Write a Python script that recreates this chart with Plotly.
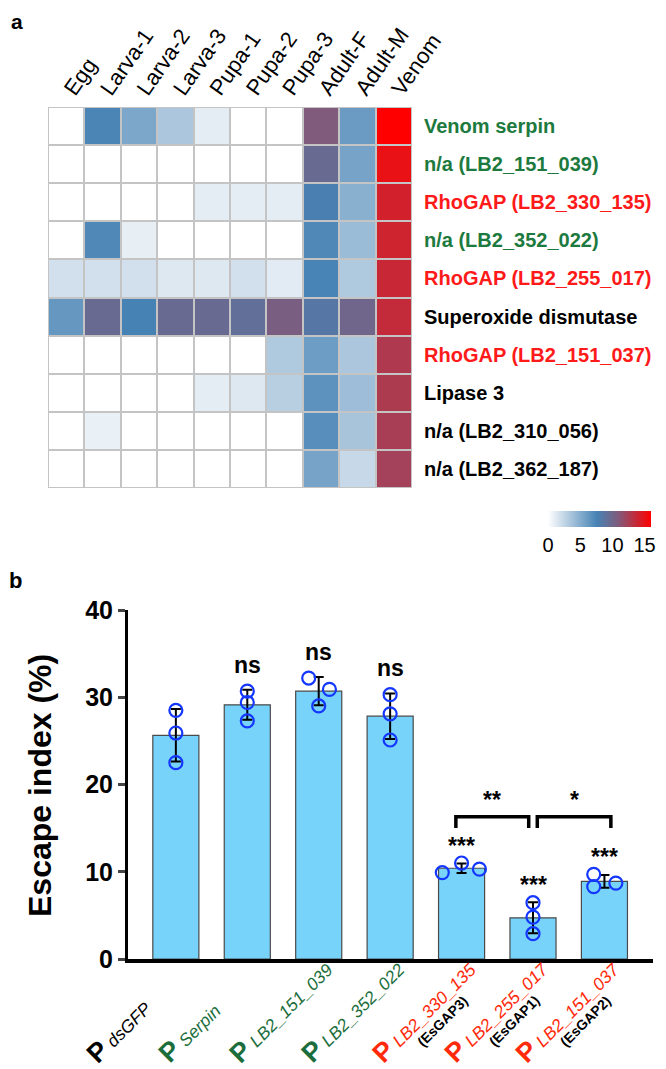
import numpy as np
import plotly.graph_objects as go

# ---- panel a: expression heatmap ----
stages = ["Egg", "Larva-1", "Larva-2", "Larva-3", "Pupa-1", "Pupa-2", "Pupa-3",
          "Adult-F", "Adult-M", "Venom"]
genes = ["Venom serpin", "n/a (LB2_151_039)", "RhoGAP (LB2_330_135)", "n/a (LB2_352_022)",
         "RhoGAP (LB2_255_017)", "Superoxide dismutase", "RhoGAP (LB2_151_037)",
         "Lipase 3", "n/a (LB2_310_056)", "n/a (LB2_362_187)"]
gene_groups = ["green", "green", "red", "green", "red", "black", "red", "black", "black", "black"]
expr = [
    [0.0, 7.4, 5.4, 3.4, 1.1, 0.0, 0.0, 10.9, 6.1, 16.0],
    [0.0, 0.0, 0.0, 0.0, 0.0, 0.0, 0.0, 9.6, 5.6, 15.1],
    [0.0, 0.0, 0.0, 0.0, 1.1, 1.1, 1.1, 7.8, 4.8, 14.2],
    [0.0, 7.2, 1.0, 0.0, 0.0, 0.0, 0.0, 7.2, 4.1, 14.0],
    [1.9, 1.9, 1.9, 1.4, 1.4, 1.9, 1.2, 7.5, 3.3, 13.8],
    [6.3, 9.6, 7.6, 9.6, 9.6, 9.2, 10.6, 8.5, 10.0, 13.6],
    [0.0, 0.0, 0.0, 0.0, 0.0, 0.0, 3.3, 6.0, 3.4, 12.8],
    [0.0, 0.0, 0.0, 0.0, 1.1, 1.4, 2.9, 6.6, 4.0, 12.7],
    [0.0, 0.9, 0.0, 0.0, 0.0, 0.0, 0.0, 6.9, 3.6, 12.5],
    [0.0, 0.0, 0.0, 0.0, 0.0, 0.0, 0.0, 5.6, 2.3, 12.3],
]

# ---- panel b: escape index ----
constructs = ["dsGFP", "Serpin", "LB2_151_039", "LB2_352_022", "LB2_330_135",
              "LB2_255_017", "LB2_151_037"]
construct_groups = ["black", "green", "green", "green", "red", "red", "red"]
aliases = ["", "", "", "", "(EsGAP3)", "(EsGAP1)", "(EsGAP2)"]
escape_reps = [
    [28.5, 25.9, 22.5],
    [30.7, 29.4, 27.3],
    [32.2, 30.9, 29.0],
    [30.3, 28.1, 25.1],
    [9.9, 11.0, 10.3],
    [6.45, 4.8, 2.9],
    [9.7, 8.3, 8.7],
]
vs_control = ["", "ns", "ns", "ns", "***", "***", "***"]
comparisons = [(4, 5, "**"), (5, 6, "*")]

FONT = "Liberation Sans, Arial, sans-serif"
hm_colors = {"green": "#1d7a3e", "red": "#ff1a1a", "black": "#000000"}
lab_colors = {"green": "#1b6e3c", "red": "#ff2a0a", "black": "#000000"}
dot_offsets = [[0, 0, 0], [0, 0, 0], [-0.14, 0.15, 0], [0, 0, 0],
               [-0.27, 0, 0.25], [0, 0, 0], [-0.15, -0.15, 0.16]]

W, H, OFF = 666, 1069, 8   # page body adds an 8px margin


def fx(x):
    return (x - OFF) / W


def fy(y):
    return 1 - (y - OFF) / H


fig = go.Figure()

fig.add_trace(go.Heatmap(
    z=expr, x=list(range(len(stages))), y=list(range(len(genes))),
    zmin=0, zmax=16, xgap=2, ygap=2,
    colorscale=[[0, "#ffffff"], [0.475, "#4682b4"], [0.68, "#7f5b7c"], [1, "#ff0000"]],
    colorbar=dict(orientation="h", x=fx(599.5), xanchor="center", y=fy(530), yanchor="middle",
                  len=123, lenmode="pixels", thickness=16, outlinewidth=0,
                  tickvals=[0, 5, 10, 15], ticks="", tickfont=dict(size=20, family=FONT)),
    xaxis="x", yaxis="y", hoverinfo="skip",
))

means = [float(np.mean(r)) for r in escape_reps]
sds = [float(np.std(r, ddof=1)) for r in escape_reps]
idx = list(range(len(constructs)))

fig.add_trace(go.Bar(
    x=idx, y=means, width=0.645, marker=dict(color="#77d3fa", line=dict(color="#4a4a4a", width=1.2)),
    error_y=dict(type="data", array=sds, color="black", thickness=2, width=5),
    xaxis="x2", yaxis="y2", showlegend=False,
))

px_, py_ = [], []
for i, reps in enumerate(escape_reps):
    for k, v in enumerate(reps):
        px_.append(i + dot_offsets[i][k])
        py_.append(v)
fig.add_trace(go.Scatter(
    x=px_, y=py_, mode="markers",
    marker=dict(symbol="circle-open", size=13, color="#1437ff", line=dict(width=2.2)),
    xaxis="x2", yaxis="y2", showlegend=False,
))

ann = []
for i, s in enumerate(vs_control):
    if not s:
        continue
    top = max(max(escape_reps[i]), means[i] + sds[i])
    ann.append(dict(x=i, y=top, xref="x2", yref="y2", text=f"<b>{s}</b>", showarrow=False,
                    yanchor="bottom", yshift=10 if s == "ns" else 2,
                    font=dict(size=23, family=FONT, color="black")))

shapes = [dict(type="rect", xref="x domain", yref="y domain", x0=0, x1=1, y0=0, y1=1,
               fillcolor="#c4c4c4", line=dict(width=0), layer="below")]
bracket_pad = [(-0.08, -0.06), (0.06, 0.09)]
for k, (i, j, s) in enumerate(comparisons):
    x0, x1 = i + bracket_pad[k][0], j + bracket_pad[k][1]
    shapes.append(dict(type="path", xref="x2", yref="y2",
                       path=f"M {x0},15.0 L {x0},16.3 L {x1},16.3 L {x1},15.0",
                       line=dict(color="black", width=3.5)))
    ann.append(dict(x=(x0 + x1) / 2, y=16.3, xref="x2", yref="y2", text=f"<b>{s}</b>",
                    showarrow=False, yanchor="bottom", yshift=2,
                    font=dict(size=23, family=FONT, color="black")))

for i, name in enumerate(constructs):
    c = lab_colors[construct_groups[i]]
    ann.append(dict(x=i, xshift=-96, y=fy(1070), xref="x2", yref="paper",
                    text=f"<b><span style='font-size:27px'>P</span></b> <i>{name}</i>",
                    textangle=-45, xanchor="left", yanchor="bottom", showarrow=False,
                    borderpad=0, font=dict(size=17.5, family=FONT, color=c)))
    if aliases[i]:
        ann.append(dict(x=i, xshift=-49, y=fy(1051), xref="x2", yref="paper",
                        text=f"<b>{aliases[i]}</b>", textangle=-45, xanchor="left",
                        yanchor="bottom", showarrow=False, borderpad=0,
                        font=dict(size=14, family=FONT, color="black")))

ann.append(dict(x=fx(40), y=fy(786), xref="paper", yref="paper",
                text="<b>Escape index (%)</b>", textangle=-90, showarrow=False,
                xanchor="center", yanchor="middle",
                font=dict(size=32, family=FONT, color="black")))
ann.append(dict(x=fx(17), y=fy(22), xref="paper", yref="paper", text="<b>a</b>",
                xanchor="center", yanchor="middle", borderpad=0,
                showarrow=False, font=dict(size=21, family=FONT, color="black")))
ann.append(dict(x=fx(15), y=fy(580), xref="paper", yref="paper", text="<b>b</b>",
                xanchor="center", yanchor="middle", borderpad=0,
                showarrow=False, font=dict(size=22, family=FONT, color="black")))

gene_ticks = [f"<b><span style='color:{hm_colors[g]}'>{t}</span></b>"
              for t, g in zip(genes, gene_groups)]

fig.update_layout(
    width=W, height=H, margin=dict(l=0, r=0, t=0, b=0, autoexpand=False),
    paper_bgcolor="white", plot_bgcolor="white", showlegend=False,
    font=dict(family=FONT, color="black"),
    xaxis=dict(domain=[fx(48), fx(412)], side="top", tickvals=list(range(len(stages))),
               ticktext=stages, tickangle=-55, ticks="", showgrid=False, zeroline=False,
               tickfont=dict(size=22), range=[-0.5, 9.5], automargin=False),
    yaxis=dict(domain=[fy(488), fy(107)], side="right",
               tickvals=list(range(len(genes))), ticktext=gene_ticks, autorange="reversed",
               ticks="", ticklabelstandoff=11, showgrid=False, zeroline=False,
               tickfont=dict(size=20), automargin=False),
    xaxis2=dict(domain=[fx(128), fx(653)], range=[-0.67, 6.68], showticklabels=False,
                ticks="", showgrid=False, zeroline=False, showline=True, linecolor="black",
                linewidth=4, anchor="y2", automargin=False),
    yaxis2=dict(domain=[fy(959), fy(610)], range=[0, 40],
                tickvals=[0, 10, 20, 30, 40], ticks="outside", ticklen=7, tickwidth=3,
                showline=True, linecolor="black", linewidth=3, showgrid=False, zeroline=False,
                tickfont=dict(size=25, family="Liberation Sans, Arial", weight="bold"),
                anchor="x2", automargin=False),
    annotations=ann, shapes=shapes,
)

fig.write_html("out.html")
